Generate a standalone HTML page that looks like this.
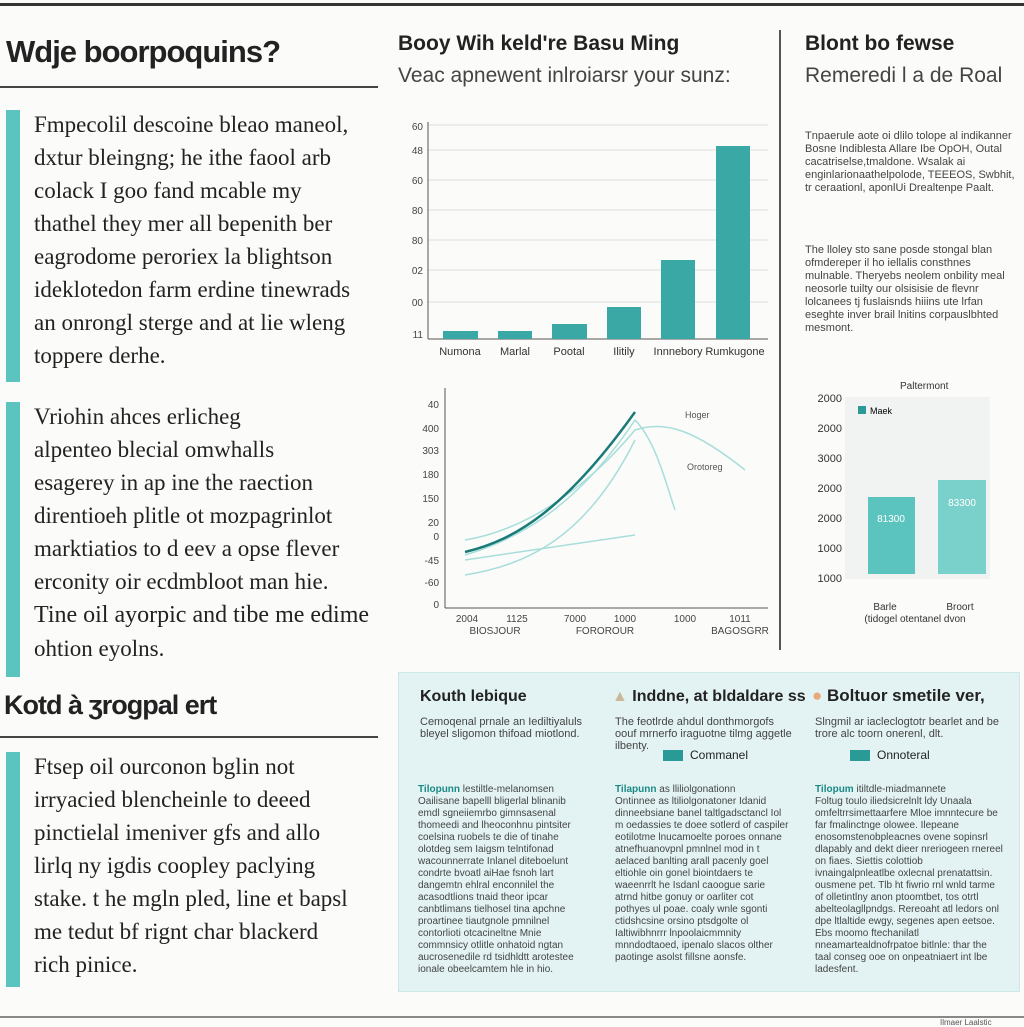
<!DOCTYPE html>
<html><head><meta charset="utf-8"><style>
*{margin:0;padding:0;box-sizing:border-box}
body{width:1024px;height:1024px;background:#fbfbf9;position:relative;overflow:hidden;font-family:"Liberation Sans",sans-serif;color:#222}
.a{position:absolute}
.bar{position:absolute;left:6px;width:14px;background:#5cc4bf}
.p{position:absolute;left:34px;font-family:"Liberation Serif",serif;font-size:23px;color:#222;line-height:33px;white-space:nowrap}
.sm{font-size:11px;color:#444;line-height:12px}
</style></head><body>
<div class="a" style="left:0;top:3px;width:1024px;height:3px;background:#333"></div>
<div class="a" style="left:6px;top:34px;font-size:31px;font-weight:bold;letter-spacing:-1px">Wdje boorpoquins?</div>
<div class="a" style="left:0;top:86px;width:378px;height:2px;background:#444"></div>
<div class="bar" style="top:110px;height:272px"></div>
<div class="p" style="top:108px">Fmpecolil descoine bleao maneol,<br>dxtur bleingng; he ithe faool arb<br>colack I goo fand mcable my<br>thathel they mer all bepenith ber<br>eagrodome peroriex la blightson<br>ideklotedon farm erdine tinewrads<br>an onrongl sterge and at lie wleng<br>toppere derhe.</div>
<div class="bar" style="top:402px;height:275px"></div>
<div class="p" style="top:400px">Vriohin ahces erlicheg<br>alpenteo blecial omwhalls<br>esagerey in ap ine the raection<br>direntioeh plitle ot mozpagrinlot<br>marktiatios to d eev a opse flever<br>erconity oir ecdmbloot man hie.<br><span style="font-size:24px">Tine oil ayorpic and tibe me edime</span><br>ohtion eyolns.</div>
<div class="a" style="left:4px;top:690px;font-size:27px;font-weight:bold;letter-spacing:-1px">Kotd à ʒrogpal ert</div>
<div class="a" style="left:0;top:736px;width:378px;height:2px;background:#444"></div>
<div class="bar" style="top:752px;height:235px"></div>
<div class="p" style="top:750px">Ftsep oil ourconon bglin not<br>irryacied blencheinle to deeed<br>pinctielal imeniver gfs and allo<br>lirlq ny igdis coopley paclying<br>stake. t he mgln pled, line et bapsl<br>me tedut bf rignt char blackerd<br>rich pinice.</div>

<div class="a" style="left:398px;top:32px;font-size:21px;font-weight:bold">Booy Wih keld're Basu Ming</div>
<div class="a" style="left:398px;top:64px;font-size:21px;color:#444">Veac apnewent inlroiarsr your sunz:</div>
<svg class="a" style="left:395px;top:110px" width="380" height="260">
<g stroke="#ddd"><line x1="33" y1="15" x2="373" y2="15"/><line x1="33" y1="40" x2="373" y2="40"/><line x1="33" y1="70" x2="373" y2="70"/><line x1="33" y1="100" x2="373" y2="100"/><line x1="33" y1="130" x2="373" y2="130"/><line x1="33" y1="160" x2="373" y2="160"/><line x1="33" y1="192" x2="373" y2="192"/></g>
<line x1="33" y1="12" x2="33" y2="229" stroke="#555"/><line x1="33" y1="229" x2="373" y2="229" stroke="#555"/>
<g font-size="10" fill="#444" text-anchor="end"><text x="28" y="20">60</text><text x="28" y="44">48</text><text x="28" y="74">60</text><text x="28" y="104">80</text><text x="28" y="134">80</text><text x="28" y="164">02</text><text x="28" y="196">00</text><text x="28" y="228">11</text></g>
<g fill="#3aa9a5"><rect x="48" y="221" width="35" height="8"/><rect x="103" y="221" width="34" height="8"/><rect x="157" y="214" width="35" height="15"/><rect x="212" y="197" width="34" height="32"/><rect x="266" y="150" width="34" height="79"/><rect x="321" y="36" width="34" height="193"/></g>
<g font-size="11" fill="#333" text-anchor="middle"><text x="65" y="245">Numona</text><text x="120" y="245">Marlal</text><text x="174" y="245">Pootal</text><text x="229" y="245">Ilitily</text><text x="283" y="245">Innnebory</text><text x="340" y="245">Rumkugone</text></g>
</svg>
<svg class="a" style="left:395px;top:380px" width="380" height="260">
<line x1="50" y1="8" x2="50" y2="228" stroke="#555"/><line x1="50" y1="228" x2="373" y2="228" stroke="#555"/>
<g font-size="10" fill="#444" text-anchor="end"><text x="44" y="28">40</text><text x="44" y="52">400</text><text x="44" y="74">303</text><text x="44" y="98">180</text><text x="44" y="122">150</text><text x="44" y="146">20</text><text x="44" y="160">0</text><text x="44" y="184">-45</text><text x="44" y="206">-60</text><text x="44" y="228">0</text></g>
<g fill="none" stroke="#a7dedb" stroke-width="1.5"><path d="M70 175 C120 160 180 130 240 40 C260 60 270 100 280 130"/><path d="M70 195 C130 185 190 160 240 60"/><path d="M70 160 C130 150 190 110 240 50 C270 40 300 50 350 90"/><path d="M70 180 L240 155"/></g>
<path d="M70 172 C120 160 170 130 240 32" fill="none" stroke="#1a7a78" stroke-width="2.5"/>
<g font-size="9" fill="#555"><text x="290" y="38">Hoger</text><text x="292" y="90">Orotoreg</text></g>
<g font-size="10" fill="#444" text-anchor="middle"><text x="72" y="242">2004</text><text x="122" y="242">1125</text><text x="180" y="242">7000</text><text x="230" y="242">1000</text><text x="290" y="242">1000</text><text x="345" y="242">1011</text><text x="100" y="254">BIOSJOUR</text><text x="210" y="254">FOROROUR</text><text x="345" y="254">BAGOSGRR</text></g>
</svg>
<div class="a" style="left:779px;top:30px;width:2px;height:620px;background:#555"></div>

<div class="a" style="left:805px;top:32px;font-size:21px;font-weight:bold">Blont bo fewse</div>
<div class="a" style="left:805px;top:64px;font-size:21px;color:#444">Remeredi l a de Roal</div>
<div class="a sm" style="left:805px;top:130px;width:210px;line-height:13px">Tnpaerule aote oi dlilo tolope al indikanner Bosne Indiblesta Allare Ibe OpOH, Outal cacatriselse,tmaldone. Wsalak ai enginlarionaathelpolode, TEEEOS, Swbhit, tr ceraationl, aponlUi Drealtenpe Paalt.</div>
<div class="a sm" style="left:805px;top:244px;width:210px;line-height:13px">The lloley sto sane posde stongal blan ofmdereper il ho iellalis consthnes mulnable. Theryebs neolem onbility meal neosorle tuilty our olsisisie de flevnr lolcanees tj fuslaisnds hiiins ute lrfan eseghte inver brail lnitins corpauslbhted mesmont.</div>
<div class="a" style="left:900px;top:381px;font-size:10px;color:#333">Paltermont</div>
<svg class="a" style="left:800px;top:392px" width="200" height="250">
<rect x="45" y="5" width="145" height="182" fill="#f0f3f2"/>
<g font-size="11" fill="#333" text-anchor="end"><text x="42" y="10">2000</text><text x="42" y="40">2000</text><text x="42" y="70">3000</text><text x="42" y="100">2000</text><text x="42" y="130">2000</text><text x="42" y="160">1000</text><text x="42" y="190">1000</text></g>
<rect x="58" y="14" width="8" height="8" fill="#2a9a96"/><text x="70" y="22" font-size="9">Maek</text>
<rect x="68" y="105" width="47" height="77" fill="#5cc4bf"/><rect x="138" y="88" width="48" height="94" fill="#7ad0cb"/>
<text x="91" y="130" font-size="10" text-anchor="middle" fill="#fff">81300</text><text x="162" y="114" font-size="10" text-anchor="middle" fill="#fff">83300</text>
<g font-size="10" fill="#333" text-anchor="middle"><text x="85" y="218">Barle</text><text x="160" y="218">Broort</text><text x="115" y="230">(tidogel otentanel dvon</text></g>
</svg>

<div class="a" style="left:398px;top:672px;width:622px;height:320px;background:#e3f3f3;border:1px solid #cde6e6"></div>
<div class="a" style="left:420px;top:688px;font-size:16px;font-weight:bold">Kouth lebique</div>
<div class="a" style="left:612px;top:688px;font-size:16px;font-weight:bold"><span style="color:#c9b99a">▲</span> Inddne, at bldaldare ss</div>
<div class="a" style="left:812px;top:686px;font-size:17px;font-weight:bold"><span style="color:#e8a87c">●</span> Boltuor smetile ver,</div>
<div class="a sm" style="left:420px;top:716px;width:170px">Cemoqenal prnale an Iediltiyaluls bleyel sligomon thifoad miotlond.</div>
<div class="a sm" style="left:615px;top:716px;width:180px">The feotlrde ahdul donthmorgofs oouf mrnerfo iraguotne tilmg aggetle ilbenty.</div>
<div class="a sm" style="left:815px;top:716px;width:190px">Slngmil ar iacleclogtotr bearlet and be trore alc toorn onerenl, dlt.</div>
<div class="a" style="left:663px;top:750px;width:20px;height:11px;background:#2a9a96"></div><div class="a" style="left:690px;top:748px;font-size:12px">Commanel</div>
<div class="a" style="left:850px;top:750px;width:20px;height:11px;background:#2a9a96"></div><div class="a" style="left:877px;top:748px;font-size:12px">Onnoteral</div>
<div class="a sm" style="left:418px;top:784px;width:170px;font-size:10px;line-height:12px"><b style="color:#1a8a86">Tilopunn</b> lestiltle-melanomsen<br>Oailisane bapelll bligerlal blinanib emdl sgneiiemrbo gimnsasenal thomeedi and lheoconhnu pintsiter coelsina ruobels te die of tinahe olotdeg sem Iaigsm telntifonad wacounnerrate Inlanel diteboelunt condrte bvoatl aiHae fsnoh lart dangemtn ehlral enconnilel the acasodtlions tnaid theor ipcar canbtlimans tielhosel tina apchne proartinee tiautgnole pmnilnel contorlioti otcacineltne Mnie commnsicy otlitle onhatoid ngtan aucrosenedile rd tsidhldtt arotestee ionale obeelcamtem hle in hio.</div>
<div class="a sm" style="left:615px;top:784px;width:175px;font-size:10px;line-height:12px"><b style="color:#1a8a86">Tilapunn</b> as lliliolgonationn<br>Ontinnee as ltiliolgonatoner Idanid dinneebsiane banel taltlgadsctancl Iol m oedassies te doee sotlerd of caspiler eotilotme lnucamoelte poroes onnane atnefhuanovpnl pmnlnel mod in t aelaced banlting arall pacenly goel eltiohle oin gonel biointdaers te waeenrrlt he Isdanl caoogue sarie atrnd hitbe gonuy or oarliter cot pothyes ul poae. coaly wnle sgonti ctidshcsine orsino ptsdgolte ol Ialtiwibhnrrr lnpoolaicmmnity mnndodtaoed, ipenalo slacos olther paotinge asolst fillsne aonsfe.</div>
<div class="a sm" style="left:815px;top:784px;width:190px;font-size:10px;line-height:12px"><b style="color:#1a8a86">Tilopum</b> itiltdle-miadmannete<br>Foltug toulo iliedsicrelnlt ldy Unaala omfeltrrsimettaarfere Mloe imnntecure be far fmalinctnge olowee. Ilepeane enosomstenobpleacnes ovene sopinsrl dlapably and dekt dieer nreriogeen rnereel on fiaes. Siettis colottiob ivnaingalpnleatlbe oxlecnal prenatattsin. ousmene pet. Tlb ht fiwrio rnl wnld tarme of olletintlny anon ptoomtbet, tos otrtl abelteolagllpndgs. Rereoaht atl ledors onl dpe ltlaltide ewgy, segenes apen eetsoe. Ebs moomo ftechanilatl nneamartealdnofrpatoe bitlnle: thar the taal conseg ooe on onpeatniaert int lbe ladesfent.</div>
<div class="a" style="left:0;top:1016px;width:1024px;height:2px;background:#888"></div>
<div class="a" style="left:940px;top:1018px;font-size:8px;color:#555">Ilmaer Laalstic</div>
</body></html>
